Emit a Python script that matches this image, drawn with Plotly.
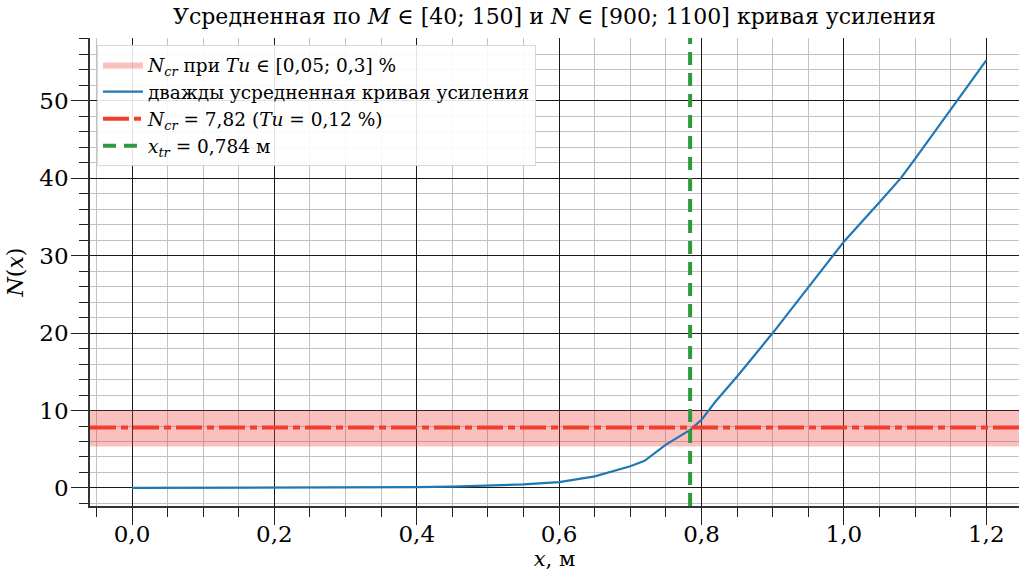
import plotly.graph_objects as go

# ---- data ----
x_vals = [0.0, 0.1, 0.2, 0.3, 0.4, 0.45, 0.5, 0.55, 0.6, 0.65, 0.7, 0.72, 0.75, 0.784,
          0.8, 0.82, 0.85, 0.9, 0.95, 1.0, 1.05, 1.08, 1.1, 1.15, 1.2]
n_vals = [0.0, 0.01, 0.03, 0.06, 0.12, 0.18, 0.28, 0.45, 0.75, 1.5, 2.8, 3.5, 5.6, 7.5,
          8.8, 11.2, 14.4, 20.0, 25.9, 31.8, 36.9, 40.0, 42.5, 48.8, 55.2]
n_cr = 7.82
band_lo, band_hi = 5.34, 10.0
x_tr = 0.784

x_tickvals = [0.0, 0.2, 0.4, 0.6, 0.8, 1.0, 1.2]
x_ticktext = ["0,0", "0,2", "0,4", "0,6", "0,8", "1,0", "1,2"]
y_tickvals = [0, 10, 20, 30, 40, 50]

x_range = [-0.059, 1.246]
y_range = [-2.33, 58.1]

FONT = "DejaVu Serif"

fig = go.Figure()

fig.add_trace(go.Scatter(
    x=[x_range[0], x_range[1], x_range[1], x_range[0], x_range[0]],
    y=[band_lo, band_lo, band_hi, band_hi, band_lo],
    fill="toself", fillcolor="rgba(235,60,60,0.32)", mode="lines",
    line=dict(width=0, color="rgba(235,60,60,0.32)"),
    name="<i>N</i><sub><i>cr</i></sub> при <i>Tu</i> ∈ [0,05; 0,3] %",
    hoverinfo="skip"))

fig.add_trace(go.Scatter(
    x=x_vals, y=n_vals, mode="lines",
    line=dict(color="#1f77b4", width=2.2),
    name="дважды усредненная кривая усиления"))

fig.add_trace(go.Scatter(
    x=x_range, y=[n_cr, n_cr], mode="lines",
    line=dict(color="#f0402a", width=4, dash="26px,5px,7px,5px"),
    name="<i>N</i><sub><i>cr</i></sub> = 7,82 (<i>Tu</i> = 0,12 %)"))

fig.add_trace(go.Scatter(
    x=[x_tr, x_tr], y=y_range, mode="lines",
    line=dict(color="#2e9a3c", width=4, dash="13px,8px"),
    name="<i>x</i><sub><i>tr</i></sub> = 0,784 м"))

fig.update_layout(
    width=1019, height=572,
    margin=dict(l=90, r=0, t=38, b=66),
    plot_bgcolor="white", paper_bgcolor="white",
    font=dict(family=FONT, color="black"),
    title=dict(text="Усредненная по <i>M</i> ∈ [40; 150] и <i>N</i> ∈ [900; 1100] кривая усиления",
               font=dict(size=22, family=FONT), x=0.5, xref="paper", xanchor="center",
               y=0.972, yanchor="middle"),
    showlegend=True,
    legend=dict(x=0.0075, y=0.985, xanchor="left", yanchor="top",
                bgcolor="rgba(255,255,255,0.88)", bordercolor="#d8d8d8", borderwidth=1,
                font=dict(size=18.5, family=FONT), tracegroupgap=0, itemwidth=40),
)

fig.update_xaxes(
    range=x_range, tickvals=x_tickvals, ticktext=x_ticktext,
    tickfont=dict(size=23, family=FONT), ticklabelstandoff=-10,
    showgrid=True, gridcolor="#1a1a1a", gridwidth=1,
    zeroline=False, showline=True, linecolor="#333", linewidth=1.5,
    ticks="outside", ticklen=17, tickwidth=1.3, tickcolor="#222",
    minor=dict(dtick=0.05, tick0=0, showgrid=True, gridcolor="#c2c2c2", gridwidth=1.3,
               ticks="outside", ticklen=9, tickwidth=1.3, tickcolor="#222"),
    title=dict(text="<i>x</i>, м", font=dict(size=21, family=FONT), standoff=0),
)

fig.update_yaxes(
    range=y_range, tickvals=y_tickvals,
    tickfont=dict(size=23, family=FONT), ticklabelstandoff=-2,
    showgrid=True, gridcolor="#1a1a1a", gridwidth=1,
    zeroline=False, showline=True, linecolor="#333", linewidth=1.5,
    ticks="outside", ticklen=17, tickwidth=1.3, tickcolor="#222",
    minor=dict(dtick=2, tick0=0, showgrid=True, gridcolor="#c2c2c2", gridwidth=1.3,
               ticks="outside", ticklen=9, tickwidth=1.3, tickcolor="#222"),
    title=dict(text="<i>N</i>(<i>x</i>)", font=dict(size=22, family=FONT), standoff=10),
)

fig.write_html("out.html")
